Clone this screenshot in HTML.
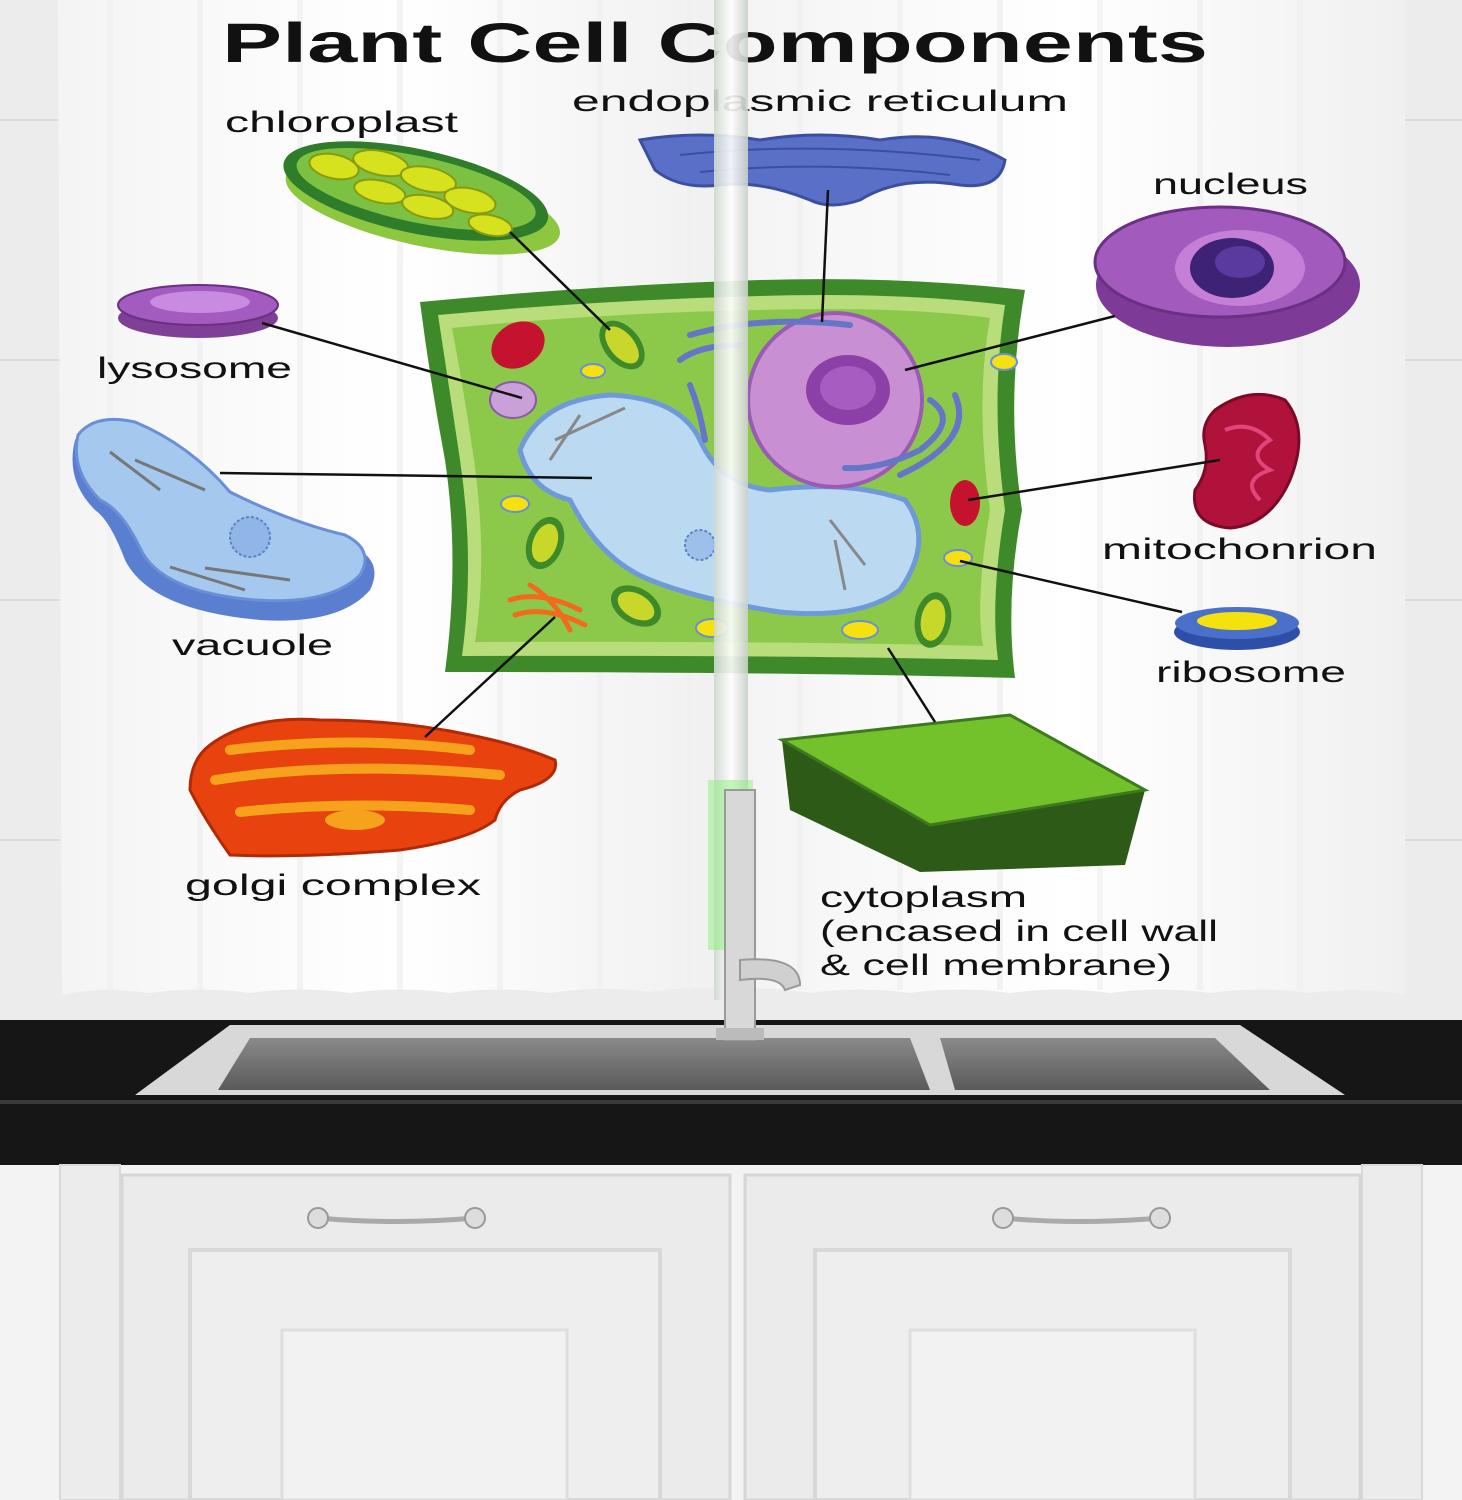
<!DOCTYPE html>
<html><head><meta charset="utf-8"><style>
html,body{margin:0;padding:0;width:1462px;height:1500px;overflow:hidden;background:#f2f2f2}
svg{display:block}
text{font-family:"Liberation Sans",sans-serif;fill:#111}
.lb{font-size:30px}
</style></head><body>
<svg width="1462" height="1500" viewBox="0 0 1462 1500" xmlns="http://www.w3.org/2000/svg">
<defs>
<linearGradient id="cur" x1="0" x2="1" y1="0" y2="0">
<stop offset="0" stop-color="#f4f4f4"/><stop offset="0.5" stop-color="#ffffff"/><stop offset="1" stop-color="#f0f0f0"/>
</linearGradient>
<linearGradient id="sink" x1="0" x2="0" y1="0" y2="1">
<stop offset="0" stop-color="#8a8a8a"/><stop offset="1" stop-color="#5a5a5a"/>
</linearGradient>
<linearGradient id="rod" x1="0" x2="1">
<stop offset="0" stop-color="#cfd8cf"/><stop offset="0.5" stop-color="#ffffff"/><stop offset="1" stop-color="#c8d0c8"/>
</linearGradient>
</defs>
<rect x="0" y="0" width="1462" height="1025" fill="#ececec"/>
<g stroke="#dcdcdc" stroke-width="2">
<line x1="0" y1="120" x2="60" y2="120"/><line x1="0" y1="360" x2="60" y2="360"/><line x1="0" y1="600" x2="60" y2="600"/><line x1="0" y1="840" x2="60" y2="840"/>
<line x1="1405" y1="120" x2="1462" y2="120"/><line x1="1405" y1="360" x2="1462" y2="360"/><line x1="1405" y1="600" x2="1462" y2="600"/><line x1="1405" y1="840" x2="1462" y2="840"/>
</g>
<path d="M58 0 H728 V990 Q690 985 650 992 Q600 985 550 993 Q500 986 450 993 Q400 986 350 993 Q300 986 250 993 Q200 986 150 993 Q100 986 62 995 Z" fill="url(#cur)"/>
<path d="M735 0 H1405 V995 Q1360 986 1310 993 Q1260 986 1210 993 Q1160 986 1110 993 Q1060 986 1010 993 Q960 986 910 993 Q860 986 810 993 Q770 986 735 990 Z" fill="url(#cur)"/>
<g stroke="#f0f0f0" stroke-width="6" opacity="0.7">
<line x1="110" y1="0" x2="110" y2="990"/><line x1="200" y1="0" x2="200" y2="990"/><line x1="300" y1="0" x2="300" y2="990"/><line x1="400" y1="0" x2="400" y2="990"/><line x1="500" y1="0" x2="500" y2="990"/><line x1="600" y1="0" x2="600" y2="990"/><line x1="690" y1="0" x2="690" y2="990"/>
<line x1="800" y1="0" x2="800" y2="990"/><line x1="900" y1="0" x2="900" y2="990"/><line x1="1000" y1="0" x2="1000" y2="990"/><line x1="1100" y1="0" x2="1100" y2="990"/><line x1="1200" y1="0" x2="1200" y2="990"/><line x1="1300" y1="0" x2="1300" y2="990"/>
</g>
<rect x="0" y="1020" width="1462" height="145" fill="#161616"/>
<rect x="0" y="1100" width="1462" height="4" fill="#3a3a3a"/>
<path d="M230 1025 H1240 L1345 1095 H135 Z" fill="#d8d8d8"/>
<path d="M250 1038 H910 L930 1090 H218 Z" fill="url(#sink)"/>
<path d="M940 1038 H1215 L1270 1090 H955 Z" fill="url(#sink)"/>
<rect x="0" y="1165" width="1462" height="335" fill="#f3f3f3"/>
<rect x="122" y="1175" width="608" height="325" fill="#ebebeb" stroke="#d6d6d6" stroke-width="3"/>
<rect x="745" y="1175" width="615" height="325" fill="#ebebeb" stroke="#d6d6d6" stroke-width="3"/>
<rect x="190" y="1250" width="470" height="250" fill="#eeeeee" stroke="#d8d8d8" stroke-width="4"/>
<rect x="815" y="1250" width="475" height="250" fill="#eeeeee" stroke="#d8d8d8" stroke-width="4"/>
<rect x="282" y="1330" width="285" height="170" fill="#f2f2f2" stroke="#dedede" stroke-width="3"/>
<rect x="910" y="1330" width="285" height="170" fill="#f2f2f2" stroke="#dedede" stroke-width="3"/>
<rect x="60" y="1165" width="60" height="335" fill="#ececec" stroke="#d8d8d8" stroke-width="2"/>
<rect x="1362" y="1165" width="60" height="335" fill="#ececec" stroke="#d8d8d8" stroke-width="2"/>
<g stroke="#aaa" stroke-width="5" fill="none" stroke-linecap="round">
<path d="M318 1218 Q395 1225 475 1218"/><path d="M1003 1218 Q1080 1225 1160 1218"/>
</g>
<circle cx="318" cy="1218" r="10" fill="#ddd" stroke="#999" stroke-width="2"/><circle cx="475" cy="1218" r="10" fill="#ddd" stroke="#999" stroke-width="2"/>
<circle cx="1003" cy="1218" r="10" fill="#ddd" stroke="#999" stroke-width="2"/><circle cx="1160" cy="1218" r="10" fill="#ddd" stroke="#999" stroke-width="2"/>

<text x="222" y="62" font-size="56" font-weight="bold" textLength="986" lengthAdjust="spacingAndGlyphs">Plant Cell Components</text>
<text class="lb" x="572" y="111" textLength="496" lengthAdjust="spacingAndGlyphs">endoplasmic reticulum</text>
<text class="lb" x="225" y="132" textLength="233" lengthAdjust="spacingAndGlyphs">chloroplast</text>
<text class="lb" x="1153" y="194" textLength="155" lengthAdjust="spacingAndGlyphs">nucleus</text>
<text class="lb" x="97" y="378" textLength="195" lengthAdjust="spacingAndGlyphs">lysosome</text>
<text class="lb" x="1102" y="559" textLength="275" lengthAdjust="spacingAndGlyphs">mitochonrion</text>
<text class="lb" x="172" y="655" textLength="161" lengthAdjust="spacingAndGlyphs">vacuole</text>
<text class="lb" x="1156" y="682" textLength="190" lengthAdjust="spacingAndGlyphs">ribosome</text>
<text class="lb" x="185" y="895" textLength="296" lengthAdjust="spacingAndGlyphs">golgi complex</text>
<text class="lb" x="820" y="907" textLength="207" lengthAdjust="spacingAndGlyphs">cytoplasm</text>
<text class="lb" x="820" y="941" textLength="398" lengthAdjust="spacingAndGlyphs">(encased in cell wall</text>
<text class="lb" x="820" y="975" textLength="352" lengthAdjust="spacingAndGlyphs">&amp; cell membrane)</text>

<g transform="rotate(12 420 195)">
<ellipse cx="425" cy="205" rx="140" ry="40" fill="#8dc63f"/>
<ellipse cx="415" cy="192" rx="135" ry="42" fill="#2f7d2a"/>
<ellipse cx="415" cy="190" rx="122" ry="33" fill="#7cc142"/>
<g fill="#d7e21e" stroke="#8a9a10" stroke-width="2">
<ellipse cx="330" cy="185" rx="25" ry="12"/><ellipse cx="375" cy="172" rx="28" ry="12"/><ellipse cx="425" cy="178" rx="28" ry="12"/><ellipse cx="470" cy="190" rx="26" ry="12"/><ellipse cx="380" cy="200" rx="26" ry="11"/><ellipse cx="430" cy="205" rx="26" ry="11"/><ellipse cx="495" cy="210" rx="22" ry="10"/>
</g></g>
<path d="M640 140 Q700 130 760 140 Q820 130 880 140 Q950 128 1005 160 Q1000 190 960 185 Q900 175 860 200 Q830 210 810 200 Q760 180 720 185 Q680 190 655 170 Z" fill="#5a6fc7" stroke="#3b4ea0" stroke-width="3"/>
<g stroke="#3b4ea0" stroke-width="2" fill="none"><path d="M680 155 Q820 140 980 160"/><path d="M700 172 Q820 160 950 175"/></g>
<ellipse cx="1228" cy="285" rx="132" ry="62" fill="#7d3a96"/>
<ellipse cx="1220" cy="262" rx="125" ry="55" fill="#a25bbd" stroke="#6b2f84" stroke-width="3"/>
<ellipse cx="1240" cy="268" rx="65" ry="38" fill="#c57fd6"/>
<ellipse cx="1232" cy="268" rx="42" ry="30" fill="#3d2275"/>
<ellipse cx="1240" cy="262" rx="25" ry="16" fill="#5b3aa0"/>
<ellipse cx="198" cy="318" rx="80" ry="20" fill="#7f3f97"/>
<ellipse cx="198" cy="305" rx="80" ry="20" fill="#a35bbf" stroke="#6b2f84" stroke-width="2"/>
<ellipse cx="200" cy="302" rx="50" ry="11" fill="#c98be0"/>
<path d="M75 440 Q90 415 135 425 Q190 450 230 500 Q290 530 350 545 Q385 560 370 590 Q340 625 260 620 Q150 610 125 560 Q110 520 95 510 Q65 480 75 440 Z" fill="#5b7fd0"/>
<path d="M78 435 Q95 413 135 422 Q190 445 230 492 Q290 522 345 535 Q375 550 360 575 Q330 605 255 600 Q160 592 140 548 Q122 510 100 500 Q70 470 78 435 Z" fill="#a5c8ef" stroke="#6a8fd6" stroke-width="3"/>
<g stroke="#777" stroke-width="3"><line x1="110" y1="452" x2="160" y2="490"/><line x1="135" y1="460" x2="205" y2="490"/><line x1="170" y1="567" x2="245" y2="590"/><line x1="205" y1="568" x2="290" y2="580"/></g>
<circle cx="250" cy="537" r="20" fill="#8fb6e6" stroke="#5c82c6" stroke-width="2" stroke-dasharray="3 2"/>
<path d="M1215 410 Q1250 385 1285 400 Q1310 430 1290 480 Q1270 525 1230 528 Q1190 525 1195 490 Q1210 470 1205 445 Q1200 425 1215 410 Z" fill="#b0123c" stroke="#7a0a28" stroke-width="3"/>
<g stroke="#e3457a" stroke-width="4" fill="none"><path d="M1225 430 Q1250 420 1270 440 Q1245 455 1270 470 Q1240 480 1260 500"/></g>
<ellipse cx="1237" cy="632" rx="63" ry="18" fill="#2e4fa8"/>
<ellipse cx="1237" cy="623" rx="62" ry="16" fill="#4a70c9"/>
<ellipse cx="1237" cy="621" rx="40" ry="9" fill="#f5e10d"/>
<path d="M210 745 Q250 715 320 720 Q400 720 470 735 Q520 745 555 760 Q560 780 520 790 Q500 800 495 820 Q470 840 400 850 Q300 858 230 855 Q205 820 190 790 Q190 760 210 745 Z" fill="#e8420f" stroke="#b22a05" stroke-width="3"/>
<g stroke="#f6a21c" stroke-width="10" fill="none" stroke-linecap="round"><path d="M230 750 Q350 735 470 750"/><path d="M215 780 Q340 760 500 775"/><path d="M240 812 Q350 800 470 810"/></g>
<ellipse cx="355" cy="820" rx="30" ry="10" fill="#f6a21c"/>
<path d="M782 740 L1010 715 L1145 790 L1125 865 L920 872 L790 810 Z" fill="#2e5a18"/>
<path d="M782 740 L1010 715 L1145 790 L930 825 Z" fill="#74c22b" stroke="#3d7a1e" stroke-width="3"/>

<path d="M420 302 Q600 285 760 280 Q900 276 1025 290 Q1005 400 1022 510 Q1005 600 1015 678 Q800 672 445 672 Q460 560 445 460 Q430 380 420 302 Z" fill="#3e8a2a"/>
<path d="M438 315 Q600 300 760 296 Q900 292 1005 305 Q990 400 1005 510 Q990 600 998 660 Q800 655 462 656 Q475 560 460 460 Q448 380 438 315 Z" fill="#b8dd7a"/>
<path d="M452 328 Q600 313 760 310 Q900 306 990 318 Q975 400 990 510 Q975 600 983 646 Q800 641 475 642 Q488 560 474 460 Q462 380 452 328 Z" fill="#8cc94a"/>
<path d="M520 450 Q540 400 610 395 Q680 398 700 440 Q720 485 770 490 Q850 480 905 500 Q935 540 900 590 Q860 620 780 612 Q700 600 650 580 Q600 560 570 500 Q530 490 520 450 Z" fill="#bcd9f2" stroke="#6f9ad8" stroke-width="5"/>
<g stroke="#888" stroke-width="3"><line x1="550" y1="460" x2="580" y2="415"/><line x1="555" y1="440" x2="625" y2="408"/><line x1="830" y1="520" x2="865" y2="565"/><line x1="835" y1="540" x2="845" y2="590"/></g>
<circle cx="700" cy="545" r="15" fill="#9dc0ea" stroke="#5c82c6" stroke-width="2" stroke-dasharray="3 2"/>
<circle cx="835" cy="400" r="87" fill="#c98fd3" stroke="#9a5cb3" stroke-width="4"/>
<ellipse cx="848" cy="390" rx="42" ry="35" fill="#8b3fa7"/>
<ellipse cx="848" cy="388" rx="28" ry="22" fill="#a65cc0"/>
<g stroke="#6576c9" stroke-width="6" fill="none" stroke-linecap="round">
<path d="M690 335 Q760 315 850 325"/><path d="M680 360 Q700 345 740 345"/><path d="M690 385 Q700 410 705 440"/><path d="M930 400 Q960 420 920 450 Q880 470 845 468"/><path d="M955 395 Q975 440 900 475"/>
</g>
<ellipse cx="518" cy="345" rx="28" ry="22" fill="#c4122f" transform="rotate(-30 518 345)"/>
<ellipse cx="622" cy="345" rx="18" ry="28" fill="#3e8a2a" transform="rotate(-40 622 345)"/>
<ellipse cx="622" cy="345" rx="12" ry="22" fill="#c7d82a" transform="rotate(-40 622 345)"/>
<ellipse cx="513" cy="400" rx="23" ry="18" fill="#c9a0d8" stroke="#8a5aa8" stroke-width="2"/>
<ellipse cx="593" cy="371" rx="12" ry="7" fill="#f5e10d" stroke="#6a8fd6" stroke-width="2"/>
<ellipse cx="515" cy="504" rx="14" ry="8" fill="#f5e10d" stroke="#6a8fd6" stroke-width="2"/>
<ellipse cx="545" cy="543" rx="18" ry="27" fill="#3e8a2a" transform="rotate(20 545 543)"/>
<ellipse cx="545" cy="543" rx="12" ry="20" fill="#c7d82a" transform="rotate(20 545 543)"/>
<ellipse cx="636" cy="606" rx="18" ry="27" fill="#3e8a2a" transform="rotate(-60 636 606)"/>
<ellipse cx="636" cy="606" rx="12" ry="20" fill="#c7d82a" transform="rotate(-60 636 606)"/>
<ellipse cx="933" cy="620" rx="18" ry="28" fill="#3e8a2a" transform="rotate(10 933 620)"/>
<ellipse cx="933" cy="620" rx="12" ry="21" fill="#c7d82a" transform="rotate(10 933 620)"/>
<ellipse cx="965" cy="503" rx="15" ry="23" fill="#c4122f"/>
<ellipse cx="958" cy="558" rx="14" ry="8" fill="#f5e10d" stroke="#6a8fd6" stroke-width="2"/>
<ellipse cx="860" cy="630" rx="18" ry="9" fill="#f5e10d" stroke="#6a8fd6" stroke-width="2"/>
<ellipse cx="712" cy="628" rx="16" ry="9" fill="#f5e10d" stroke="#6a8fd6" stroke-width="2"/>
<ellipse cx="1004" cy="362" rx="13" ry="8" fill="#f5e10d" stroke="#6a8fd6" stroke-width="2"/>
<g stroke="#f26a1b" stroke-width="5" fill="none" stroke-linecap="round"><path d="M510 600 Q540 590 580 610"/><path d="M515 615 Q545 605 585 625"/><path d="M530 585 Q555 600 570 630"/></g>

<g stroke="#111" stroke-width="2.5">
<line x1="510" y1="232" x2="610" y2="330"/>
<line x1="828" y1="190" x2="822" y2="322"/>
<line x1="1115" y1="316" x2="905" y2="370"/>
<line x1="262" y1="323" x2="522" y2="398"/>
<line x1="220" y1="473" x2="592" y2="478"/>
<line x1="1220" y1="460" x2="968" y2="500"/>
<line x1="960" y1="561" x2="1182" y2="612"/>
<line x1="555" y1="617" x2="425" y2="737"/>
<line x1="888" y1="648" x2="935" y2="722"/>
</g>

<rect x="714" y="0" width="34" height="1000" fill="url(#rod)" opacity="0.9"/>
<rect x="708" y="780" width="45" height="170" fill="#8ef07a" opacity="0.5"/>
<rect x="725" y="790" width="30" height="250" fill="#d8d8d8" stroke="#9a9a9a" stroke-width="2"/>
<path d="M740 960 Q800 955 800 985 L785 990 Q780 975 740 980 Z" fill="#d0d0d0" stroke="#999" stroke-width="2"/>
<rect x="716" y="1028" width="48" height="12" fill="#bbb"/>
</svg>
</body></html>
